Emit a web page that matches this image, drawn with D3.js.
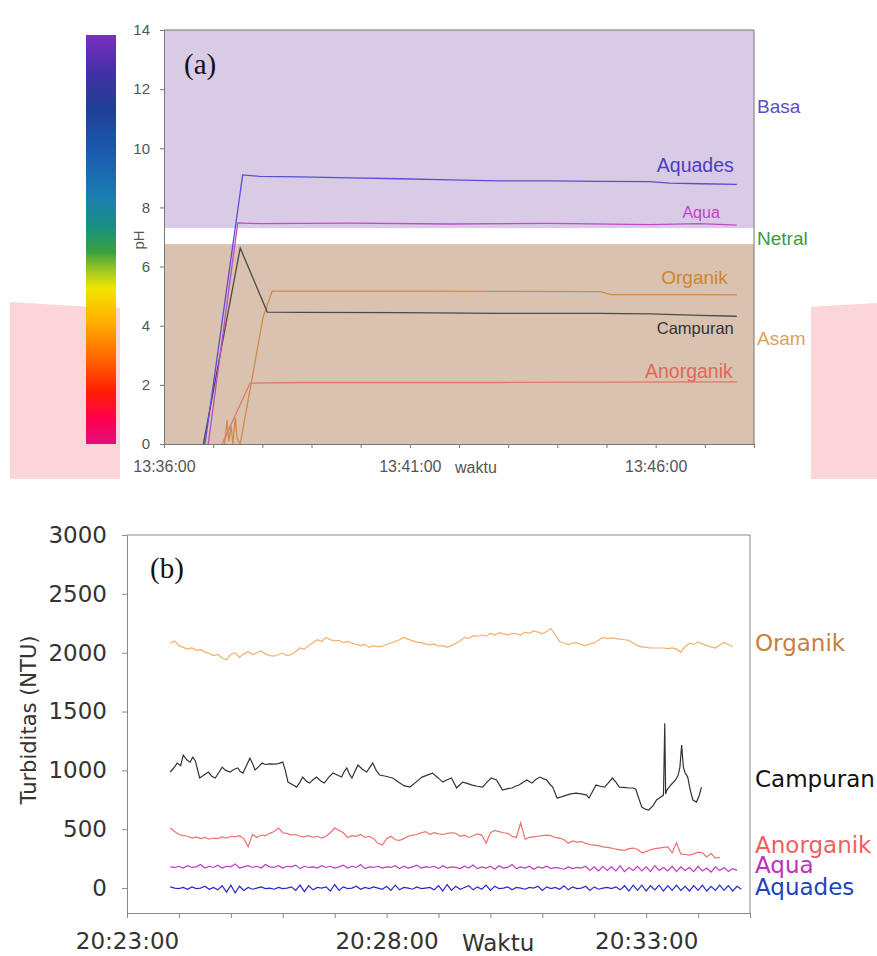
<!DOCTYPE html>
<html>
<head>
  <meta charset="utf-8">
  <title>pH dan Turbiditas</title>
  <script src="https://cdn.jsdelivr.net/npm/d3@7"></script>
  <style>
    body { margin: 0; background: #ffffff; }
    svg { display: block; }
    .axisA text { font-family: "Liberation Sans", Arial, sans-serif; font-size: 15px; fill: #555; }
    .axisA path, .axisA line { stroke: #777; }
    .axisB text { font-family: "DejaVu Sans", sans-serif; font-size: 23px; fill: #333; }
    .axisB path, .axisB line { stroke: #888; }
    .lblA { font-family: "Liberation Sans", Arial, sans-serif; }
    .lblB { font-family: "DejaVu Sans", sans-serif; font-size: 23px; }
    .panel { font-family: "Liberation Serif", "Times New Roman", serif; font-size: 29px; fill: #111; }
  </style>
</head>
<body>
<script>
// ---------- (a) pH, seconds after 13:36:00 ----------
var phTicks = [0, 2, 4, 6, 8, 10, 12, 14];
var basaRange = [7.3, 14];
var asamRange = [0, 6.76];

var aquadesSecA = [50, 96, 117, 166, 227, 288, 349, 410, 471, 532, 593, 617, 654, 699];
var aquadesPH   = [0, 9.1, 9.05, 9.03, 9.0, 8.97, 8.93, 8.9, 8.9, 8.88, 8.87, 8.82, 8.8, 8.78];
var aquaSecA = [54, 90, 117, 227, 349, 471, 593, 654, 699];
var aquaPH   = [0, 7.48, 7.45, 7.47, 7.44, 7.46, 7.42, 7.45, 7.4];
var campuranSecA = [48, 93, 126, 166, 288, 410, 532, 593, 654, 699];
var campuranPH   = [0, 6.63, 4.46, 4.45, 4.44, 4.42, 4.42, 4.4, 4.35, 4.32];
var organikSecA = [74, 77, 79, 82, 84, 87, 89, 93, 121, 132, 288, 532, 546, 654, 699];
var organikPH   = [0, 0.8, 0.1, 0.6, 0, 0.9, 0.2, 0, 4.3, 5.17, 5.17, 5.15, 5.05, 5.05, 5.04];
var anorganikSecA = [71, 105, 166, 410, 699];
var anorganikPH   = [0, 2.06, 2.08, 2.08, 2.1];

// ---------- (b) turbidity, seconds after 20:23:00 ----------
var ntuTicks = [0, 500, 1000, 1500, 2000, 2500, 3000];

// 5 s steps from 50 s
var organikNTU = [2080, 2100, 2060, 2045, 2030, 2040, 2020, 2025, 2005, 1995, 1975, 1985,
  1955, 1940, 1985, 2000, 1960, 1990, 2010, 1985, 2000, 2015, 1990, 1975,
  1970, 1985, 1995, 1975, 1985, 2010, 2040, 2030, 2060, 2085, 2110, 2095,
  2130, 2110, 2100, 2105, 2085, 2095, 2080, 2070, 2060, 2070, 2045, 2060,
  2050, 2055, 2070, 2080, 2095, 2110, 2130, 2115, 2100, 2090, 2085, 2075,
  2065, 2075, 2055, 2060, 2045, 2060, 2080, 2100, 2130, 2120, 2145, 2140,
  2150, 2140, 2165, 2150, 2170, 2160, 2150, 2165, 2160, 2150, 2175, 2165,
  2185, 2175, 2160, 2180, 2205, 2150, 2095, 2080, 2070, 2080, 2085, 2070,
  2060, 2075, 2085, 2105, 2130, 2120, 2125, 2120, 2115, 2110, 2105, 2080,
  2060, 2050, 2045, 2040, 2040, 2040, 2040, 2035, 2040, 2030, 2005, 2050,
  2080, 2070, 2090, 2075, 2060, 2050, 2040, 2065, 2085, 2070, 2050];

var campuranSec = [50, 54, 58, 62, 65, 69, 73, 76, 79, 84, 89, 94, 98, 102, 106, 110, 114, 119,
  124, 128, 131, 134, 138, 142, 145, 148, 152, 156, 160, 165, 170, 175, 180, 183, 186, 191, 196,
  200, 203, 207, 211, 215, 219, 224, 228, 233, 238, 243, 248, 251, 254, 257, 260, 264, 267, 272,
  277, 281, 284, 288, 292, 299, 307, 314, 320, 327, 334, 341, 347, 353, 359, 365, 370, 375, 381,
  385, 388, 393, 399, 405, 411, 416, 421, 427, 431, 434, 440, 445, 449, 453, 458, 462, 468, 472,
  477, 481, 485, 489, 492, 497, 502, 508, 513, 519, 525, 531, 534, 538, 542, 547, 552, 557, 561,
  565, 569, 574, 580, 585, 588, 592, 595, 599, 603, 608, 612, 616, 620, 621.5, 622.5, 624, 629,
  634, 637, 639, 641, 643, 645, 648, 651, 654, 658, 661, 664];
var campuranNTU = [986, 1020, 1062, 1040, 1130, 1090, 1070, 1113, 1080, 935, 960, 986, 950, 935, 980, 1028, 1000, 986,
  1010, 1020, 990, 977, 1040, 1104, 1060, 1003, 1030, 1062, 1050, 1055, 1053, 1058, 1070, 1000, 900, 880, 858,
  900, 943, 910, 892, 920, 943, 910, 892, 940, 977, 960, 943, 990, 1020, 970, 935, 1000, 1045, 1010,
  986, 1030, 1062, 1000, 960, 950, 935, 900, 870, 858, 900, 943, 960, 977, 940, 900, 920, 935, 850,
  880, 900, 890, 875, 865, 858, 900, 935, 918, 870, 833, 845, 850, 865, 875, 900, 918, 892, 920,
  943, 930, 918, 880, 858, 765, 775, 790, 800, 807, 800, 790, 765, 820, 875, 865, 858, 900, 935,
  900, 858, 855, 850, 850, 840, 750, 688, 670, 663, 700, 748, 770, 790, 1400, 800, 833, 880,
  918, 960, 1028, 1215, 1028, 980, 943, 830, 748, 731, 780, 858];

var anorganikNTU = [510, 480, 455, 445, 440, 425, 435, 420, 430, 415, 425, 420,
  435, 425, 440, 435, 445, 420, 350, 455, 430, 450, 445, 465,
  480, 510, 470, 465, 450, 455, 440, 435, 445, 430, 440, 425,
  440, 470, 510, 490, 470, 430, 445, 440, 455, 430, 440, 420,
  380, 365, 420, 440, 410, 405, 420, 440, 450, 455, 470, 480,
  455, 470, 460, 455, 465, 470, 465, 440, 450, 430, 445, 460,
  450, 380, 470, 490, 480, 470, 465, 440, 430, 555, 415, 430,
  435, 440, 445, 450, 445, 430, 425, 410, 380, 400, 390, 395,
  380, 370, 365, 360, 350, 345, 340, 330, 325, 320, 335, 340,
  330, 300, 310, 325, 335, 340, 345, 350, 300, 385, 290, 285,
  280, 290, 305, 300, 265, 295, 255, 260];
var aquaNTU = [180, 175, 185, 170, 190, 175, 180, 200, 170, 185, 175, 195,
  170, 185, 180, 205, 170, 180, 190, 175, 185, 170, 200, 180,
  175, 190, 170, 185, 180, 195, 165, 185, 175, 180, 170, 190,
  175, 185, 170, 180, 195, 170, 185, 175, 200, 165, 180, 175,
  185, 170, 180, 175, 190, 165, 185, 170, 180, 195, 170, 180,
  175, 185, 165, 190, 170, 180, 175, 165, 185, 170, 195, 165,
  180, 170, 185, 160, 190, 170, 175, 200, 165, 180, 170, 185,
  160, 180, 170, 185, 165, 175, 170, 160, 180, 165, 175, 170,
  185, 150, 180, 145, 185, 150, 180, 145, 190, 140, 175, 150,
  185, 145, 180, 140, 190, 150, 175, 145, 185, 140, 180, 150,
  175, 140, 185, 145, 170, 135, 180, 150, 175, 140, 165, 150];
var aquadesNTU = [10, 0, -5, 5, -10, 10, -5, 0, 15, -10, 5, -15,
  20, -35, 25, -40, 15, -20, 5, -10, 0, 10, -5, 0,
  -10, 5, -5, 0, 10, -20, 25, -30, 20, -15, 5, 0,
  10, -25, 30, -20, 10, -5, 0, 15, -10, 5, -5, 10,
  0, -10, 15, -20, 25, -15, 5, 0, -10, 10, -5, 0,
  5, -15, 20, -25, 30, -20, 15, -10, 5, 20, -15, 10,
  -10, 25, -20, 15, -5, 0, 10, -15, 5, 0, -10, 5,
  0, 15, -20, 10, -5, 5, -10, 20, -15, 10, -5, 0,
  15, -20, 10, -10, 0, 5, -5, 10, -15, 20, -25, 25,
  -20, 25, -25, 20, -15, 25, -25, 20, -20, 25, -20, 15,
  -25, 20, -20, 25, -25, 15, -20, 25, -20, 20, -25, 15,
  -10];

// ---------- helpers ----------
function clock(h, m, s) { return new Date(2020, 0, 1, h, m, s); }
function pairs(t0, secs, vals) {
  return vals.map(function(v, i) { return {t: new Date(+t0 + secs[i] * 1000), v: v}; });
}
function steps(t0, start, step, vals) {
  return vals.map(function(v, i) { return {t: new Date(+t0 + (start + i * step) * 1000), v: v}; });
}
var fmt = d3.timeFormat("%H:%M:%S");

var width = 877;
var height = 956;
var svg = d3.select("body").append("svg")
            .attr("width", width)
            .attr("height", height);

// ================= panel (a) =================
// pink backdrop and white card
svg.append("path")
   .attr("d", "M10,302 Q443,330 877,303 L877,479 L10,479 Z")
   .attr("fill", "#fcd5d8");
svg.append("rect")
   .attr("x", 120).attr("y", 0).attr("width", 691).attr("height", 479)
   .attr("fill", "#ffffff");

var t0A = clock(13, 36, 0);
var xA = d3.scaleTime().domain([t0A, clock(13, 48, 0)]).range([164, 754]);
var yA = d3.scaleLinear().domain([0, 14]).range([444, 30]);

// colour scale bar
var grad = svg.append("defs").append("linearGradient")
   .attr("id", "phbar").attr("x1", 0).attr("y1", 0).attr("x2", 0).attr("y2", 1);
[[0, "#7b2fc2"], [0.08, "#4a2fa8"], [0.18, "#1f3f95"], [0.3, "#1a5fb0"], [0.4, "#1c7fb0"],
 [0.47, "#1a9080"], [0.53, "#3aa040"], [0.58, "#a8cc20"], [0.62, "#f2e400"], [0.7, "#ffb000"],
 [0.78, "#ff7000"], [0.87, "#ff2000"], [0.94, "#ff0050"], [1, "#e0107a"]].forEach(function(s) {
  grad.append("stop").attr("offset", s[0]).attr("stop-color", s[1]);
});
svg.append("rect")
   .attr("x", 86).attr("y", 35).attr("width", 30).attr("height", 409)
   .attr("fill", "url(#phbar)");

// zones
svg.append("rect")
   .attr("x", xA.range()[0]).attr("y", yA(basaRange[1]))
   .attr("width", xA.range()[1] - xA.range()[0])
   .attr("height", yA(basaRange[0]) - yA(basaRange[1]))
   .attr("fill", "#d9cbe6");
svg.append("rect")
   .attr("x", xA.range()[0]).attr("y", yA(asamRange[1]))
   .attr("width", xA.range()[1] - xA.range()[0])
   .attr("height", yA(asamRange[0]) - yA(asamRange[1]))
   .attr("fill", "#d9c2b0");

// frame top / right
svg.append("path")
   .attr("d", "M" + xA.range()[0] + "," + yA(14) + "H" + xA.range()[1] + "V" + yA(0))
   .attr("fill", "none").attr("stroke", "#777");

svg.append("clipPath").attr("id", "clipA").append("rect")
   .attr("x", 164).attr("y", 30).attr("width", 590).attr("height", 414);

var lineA = d3.line().x(function(d) { return xA(d.t); }).y(function(d) { return yA(d.v); });

var seriesA = [
  {name: "Organik",   data: pairs(t0A, organikSecA, organikPH),     stroke: "#cf8a4a", fill: "#d08430", size: 19, dx: -9, dy: -11},
  {name: "Anorganik", data: pairs(t0A, anorganikSecA, anorganikPH), stroke: "#e07868", fill: "#e06858", size: 19.5, dx: -4, dy: -4},
  {name: "Campuran",  data: pairs(t0A, campuranSecA, campuranPH),   stroke: "#4a4a4a", fill: "#333333", size: 16.5, dx: -3, dy: 18},
  {name: "Aqua",      data: pairs(t0A, aquaSecA, aquaPH),           stroke: "#c448c8", fill: "#c040c8", size: 16, dx: -17, dy: -7},
  {name: "Aquades",   data: pairs(t0A, aquadesSecA, aquadesPH),     stroke: "#5a4ed4", fill: "#4b3fc4", size: 19.5, dx: -3, dy: -12}
];

var gA = svg.append("g").attr("clip-path", "url(#clipA)");
seriesA.forEach(function(s) {
  gA.append("path")
    .datum(s.data)
    .attr("d", lineA)
    .attr("fill", "none")
    .attr("stroke", s.stroke)
    .attr("stroke-width", 1.3);
  var last = s.data[s.data.length - 1];
  svg.append("text")
     .attr("class", "lblA")
     .attr("x", xA(last.t) + s.dx)
     .attr("y", yA(last.v) + s.dy)
     .attr("text-anchor", "end")
     .style("font-size", s.size + "px")
     .attr("fill", s.fill)
     .text(s.name);
});

// zone labels
[["Basa", 11.2, "#5a50c8"], ["Netral", 6.73, "#3d9a3d"], ["Asam", 3.35, "#e0a060"]].forEach(function(z) {
  svg.append("text")
     .attr("class", "lblA")
     .attr("x", 757)
     .attr("y", yA(z[1]))
     .style("font-size", "19px")
     .attr("fill", z[2])
     .text(z[0]);
});

// axes (a)
svg.append("g")
   .attr("class", "axisA")
   .attr("transform", "translate(164,0)")
   .call(d3.axisLeft(yA).tickValues(phTicks).tickSize(4).tickSizeOuter(0).tickPadding(10));

svg.append("g")
   .attr("class", "axisA")
   .attr("transform", "translate(0,444)")
   .call(d3.axisBottom(xA)
     .ticks(d3.timeMinute.every(1))
     .tickSize(4).tickSizeOuter(0).tickPadding(13)
     .tickFormat(function(d) { return d.getMinutes() % 5 === 1 ? fmt(d) : ""; }))
   .selectAll("text").style("font-size", "16px");

svg.append("text")
   .attr("class", "lblA")
   .attr("transform", "translate(144,240) rotate(-90)")
   .attr("text-anchor", "middle")
   .style("font-size", "15px")
   .attr("fill", "#555")
   .text("pH");

svg.append("text")
   .attr("class", "lblA")
   .attr("x", 455).attr("y", 473)
   .style("font-size", "16px")
   .attr("fill", "#555")
   .text("waktu");

svg.append("text")
   .attr("class", "panel")
   .attr("x", 184).attr("y", 74)
   .text("(a)");

// ================= panel (b) =================
var t0B = clock(20, 23, 0);
var xB = d3.scaleTime().domain([t0B, clock(20, 35, 0)]).range([127, 750]);
var yB = d3.scaleLinear().domain([-212, 3000]).range([913, 535]);

svg.append("path")
   .attr("d", "M127," + yB(3000) + "H750V" + yB(-212))
   .attr("fill", "none").attr("stroke", "#888");

svg.append("g")
   .attr("class", "axisB")
   .attr("transform", "translate(127,0)")
   .call(d3.axisLeft(yB).tickValues(ntuTicks).tickFormat(d3.format("d"))
     .tickSize(5).tickSizeOuter(0).tickPadding(15));

svg.append("g")
   .attr("class", "axisB")
   .attr("transform", "translate(0,913)")
   .call(d3.axisBottom(xB)
     .ticks(d3.timeMinute.every(1))
     .tickSize(5).tickSizeOuter(0).tickPadding(15)
     .tickFormat(function(d) { return d.getMinutes() % 5 === 3 ? fmt(d) : ""; }));

var lineB = d3.line().x(function(d) { return xB(d.t); }).y(function(d) { return yB(d.v); });

var seriesB = [
  {name: "Organik",   data: steps(t0B, 50, 5, organikNTU),        stroke: "#f4b06c", fill: "#c8803c", dy: 4},
  {name: "Campuran",  data: pairs(t0B, campuranSec, campuranNTU), stroke: "#333333", fill: "#111111", dy: 0},
  {name: "Anorganik", data: steps(t0B, 50, 5, anorganikNTU),      stroke: "#ee7070", fill: "#f06060", dy: -4},
  {name: "Aqua",      data: steps(t0B, 50, 5, aquaNTU),           stroke: "#c038c8", fill: "#c030c0", dy: 3},
  {name: "Aquades",   data: steps(t0B, 50, 5, aquadesNTU),        stroke: "#2828c8", fill: "#2244bb", dy: 6}
];

seriesB.forEach(function(s) {
  svg.append("path")
     .datum(s.data)
     .attr("d", lineB)
     .attr("fill", "none")
     .attr("stroke", s.stroke)
     .attr("stroke-width", 1.2);
  var last = s.data[s.data.length - 1];
  svg.append("text")
     .attr("class", "lblB")
     .attr("x", 755)
     .attr("y", yB(last.v) + s.dy)
     .attr("fill", s.fill)
     .text(s.name);
});

svg.append("text")
   .attr("class", "lblB")
   .attr("transform", "translate(36,720) rotate(-90)")
   .attr("text-anchor", "middle")
   .style("font-size", "21px")
   .attr("fill", "#333")
   .text("Turbiditas (NTU)");

svg.append("text")
   .attr("class", "lblB")
   .attr("x", 462).attr("y", 951)
   .attr("fill", "#333")
   .text("Waktu");

svg.append("text")
   .attr("class", "panel")
   .attr("x", 150).attr("y", 578)
   .text("(b)");
</script>
</body>
</html>
